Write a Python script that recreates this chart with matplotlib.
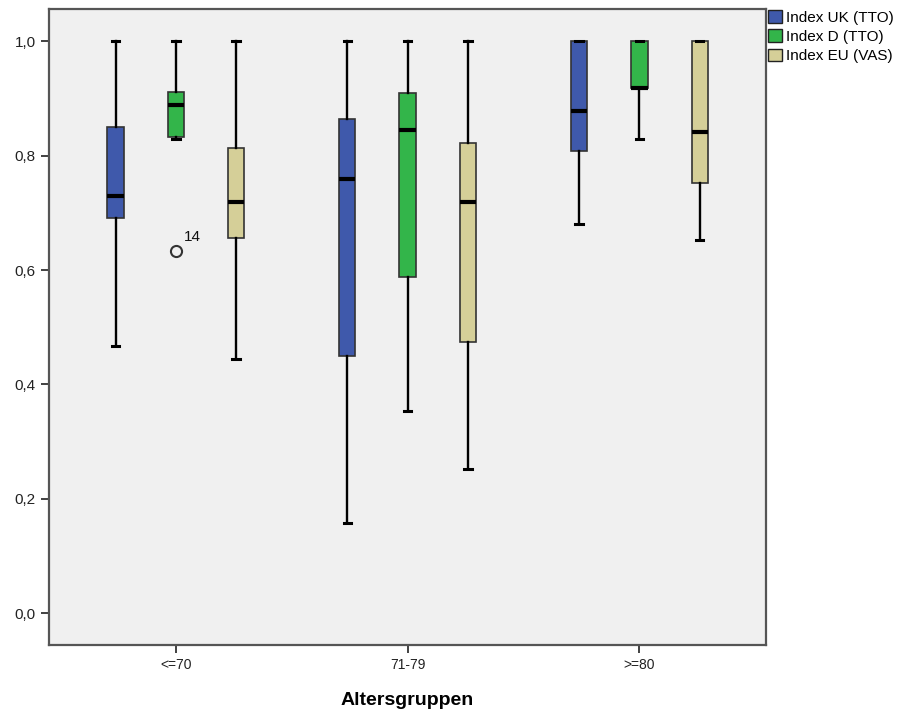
import matplotlib
matplotlib.use("Agg")
import matplotlib.pyplot as plt
from matplotlib.patches import Patch

plt.rcParams['font.family'] = ['Liberation Sans', 'DejaVu Sans']

# Age groups and index series
groups = ["<=70", "71-79", ">=80"]
series = ["Index UK (TTO)", "Index D (TTO)", "Index EU (VAS)"]
colors = ["#3f59ab", "#33b54a", "#d5cf98"]

# Five-number summaries per series, one value per age group
whisker_low = {
    "Index UK (TTO)": [0.467, 0.157, 0.680],
    "Index D (TTO)":  [0.829, 0.353, 0.829],
    "Index EU (VAS)": [0.444, 0.252, 0.652],
}
q1 = {
    "Index UK (TTO)": [0.691, 0.449, 0.809],
    "Index D (TTO)":  [0.832, 0.587, 0.918],
    "Index EU (VAS)": [0.656, 0.474, 0.753],
}
median = {
    "Index UK (TTO)": [0.729, 0.759, 0.878],
    "Index D (TTO)":  [0.888, 0.845, 0.918],
    "Index EU (VAS)": [0.719, 0.719, 0.841],
}
q3 = {
    "Index UK (TTO)": [0.850, 0.864, 1.0],
    "Index D (TTO)":  [0.911, 0.909, 1.0],
    "Index EU (VAS)": [0.813, 0.823, 1.0],
}
whisker_high = {
    "Index UK (TTO)": [1.0, 1.0, 1.0],
    "Index D (TTO)":  [1.0, 1.0, 1.0],
    "Index EU (VAS)": [1.0, 1.0, 1.0],
}
# Outliers: (series, group index, value, case label)
outliers = [("Index D (TTO)", 0, 0.633, "14")]

yticks = [0.0, 0.2, 0.4, 0.6, 0.8, 1.0]
ytick_labels = ["0,0", "0,2", "0,4", "0,6", "0,8", "1,0"]

fig = plt.figure(figsize=(9.13, 7.11), dpi=100)
ax = fig.add_axes([0.0537, 0.0928, 0.785, 0.894])
ax.set_facecolor("#f0f0f0")

offsets = [-0.26, 0.0, 0.26]
box_w = 0.07
for s, off, col in zip(series, offsets, colors):
    stats = []
    for gi in range(len(groups)):
        fl = [v for (ss, g, v, _) in outliers if ss == s and g == gi]
        stats.append(dict(whislo=whisker_low[s][gi], q1=q1[s][gi], med=median[s][gi],
                          q3=q3[s][gi], whishi=whisker_high[s][gi], fliers=fl))
    ax.bxp(stats, positions=[gi + off for gi in range(len(groups))], widths=box_w,
           patch_artist=True, showfliers=True,
           boxprops=dict(facecolor=col, edgecolor="#333333", linewidth=1.2),
           medianprops=dict(color="black", linewidth=3, solid_capstyle="butt"),
           whiskerprops=dict(color="black", linewidth=1.7),
           capprops=dict(color="black", linewidth=2.2),
           capwidths=0.032,
           flierprops=dict(marker="o", markerfacecolor="none", markeredgecolor="#333333",
                           markersize=8, markeredgewidth=1.5))

for s, gi, v, lab in outliers:
    ax.text(gi + offsets[series.index(s)] + 0.033, v + 0.012, lab, fontsize=11,
            ha="left", va="bottom", color="#111111")

ax.set_xlim(-0.547, 2.545)
ax.set_ylim(-0.056, 1.056)
ax.set_xticks(range(len(groups)))
ax.set_xticklabels(groups, fontsize=10, color="#222222")
ax.set_yticks(yticks)
ax.set_yticklabels(ytick_labels, fontsize=11, color="#222222")
ax.tick_params(axis="both", direction="out", length=6, width=1.3, color="#333333")
for sp in ax.spines.values():
    sp.set_color("#555555")
    sp.set_linewidth(1.6)

ax.set_xlabel("Altersgruppen", fontsize=14, fontweight="bold", labelpad=14)

handles = [Patch(facecolor=c, edgecolor="#222222", linewidth=1) for c in colors]
fig.legend(handles, series, loc="upper left", bbox_to_anchor=(0.838, 0.99),
           frameon=False, fontsize=11, handlelength=0.9, handleheight=0.9,
           handletextpad=0.3, labelspacing=0.3, borderaxespad=0.0, borderpad=0.2)

fig.savefig("out.png", dpi=100)
